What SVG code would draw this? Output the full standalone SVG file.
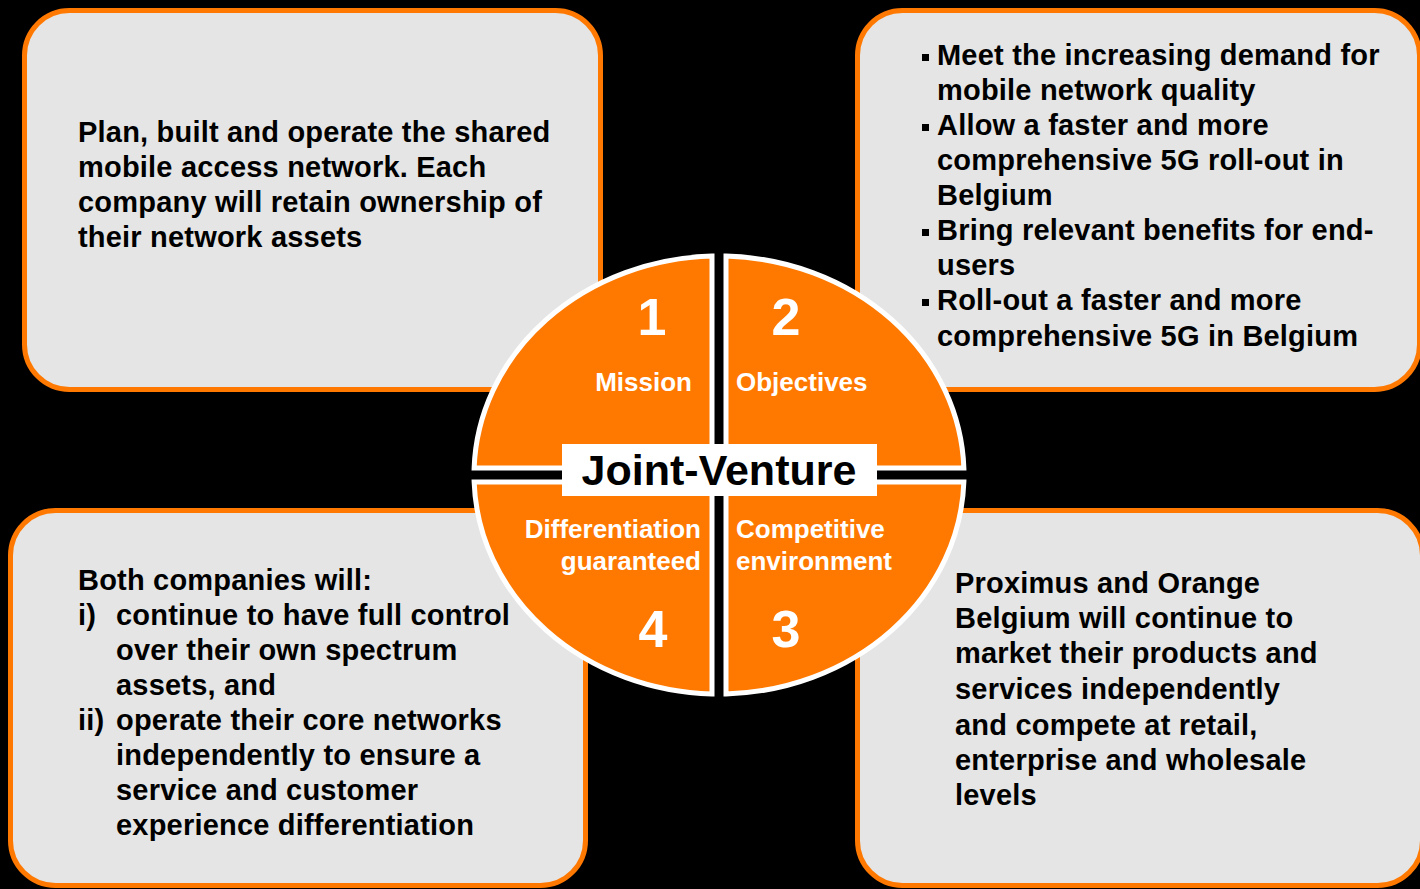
<svg xmlns="http://www.w3.org/2000/svg" width="1420" height="889" viewBox="0 0 1420 889">
  <style>
    .box { fill: #E5E5E5; stroke: #FF7900; stroke-width: 5; }
    .body { font-family: "Liberation Sans", Arial, sans-serif; font-weight: bold; font-size: 29px; fill: #000; letter-spacing: 0.2px; }
    .quad { fill: #FF7900; stroke: #FFFFFF; stroke-width: 5; stroke-linejoin: miter; }
    .num { font-family: "Liberation Sans", Arial, sans-serif; font-weight: bold; font-size: 52px; fill: #FFFFFF; text-anchor: middle; }
    .lbl { font-family: "Liberation Sans", Arial, sans-serif; font-weight: bold; font-size: 26px; fill: #FFFFFF; }
    .title { font-family: "Liberation Sans", Arial, sans-serif; font-weight: bold; font-size: 43px; fill: #000; text-anchor: middle; }
  </style>
  <rect x="0" y="0" width="1420" height="889" fill="#000000"/>

  <!-- Mission box -->
  <g id="box-mission">
    <rect class="box" x="24.5" y="10.5" width="576" height="379" rx="45" ry="45"/>
    <text class="body">
      <tspan x="78" y="142">Plan, built and operate the shared</tspan>
      <tspan x="78" y="177">mobile access network. Each</tspan>
      <tspan x="78" y="212">company will retain ownership of</tspan>
      <tspan x="78" y="247">their network assets</tspan>
    </text>
  </g>

  <!-- Objectives box -->
  <g id="box-objectives">
    <rect class="box" x="857.5" y="10.5" width="562" height="379" rx="45" ry="45"/>
    <g fill="#000">
      <rect x="922" y="54" width="7" height="7"/>
      <rect x="922" y="124" width="7" height="7"/>
      <rect x="922" y="229" width="7" height="7"/>
      <rect x="922" y="299" width="7" height="7"/>
    </g>
    <text class="body">
      <tspan x="937" y="65">Meet the increasing demand for</tspan>
      <tspan x="937" y="100">mobile network quality</tspan>
      <tspan x="937" y="135">Allow a faster and more</tspan>
      <tspan x="937" y="170">comprehensive 5G roll-out in</tspan>
      <tspan x="937" y="205">Belgium</tspan>
      <tspan x="937" y="240">Bring relevant benefits for end-</tspan>
      <tspan x="937" y="275">users</tspan>
      <tspan x="937" y="310">Roll-out a faster and more</tspan>
      <tspan x="937" y="346">comprehensive 5G in Belgium</tspan>
    </text>
  </g>

  <!-- Differentiation box -->
  <g id="box-differentiation">
    <rect class="box" x="10.5" y="510.5" width="575" height="375" rx="45" ry="45"/>
    <text class="body">
      <tspan x="78" y="590">Both companies will:</tspan>
      <tspan x="78" y="625">i)</tspan>
      <tspan x="116" y="625">continue to have full control</tspan>
      <tspan x="116" y="660">over their own spectrum</tspan>
      <tspan x="116" y="695">assets, and</tspan>
      <tspan x="78" y="730">ii)</tspan>
      <tspan x="116" y="730">operate their core networks</tspan>
      <tspan x="116" y="765">independently to ensure a</tspan>
      <tspan x="116" y="800">service and customer</tspan>
      <tspan x="116" y="835">experience differentiation</tspan>
    </text>
  </g>

  <!-- Competition box -->
  <g id="box-competition">
    <rect class="box" x="857.5" y="510.5" width="565" height="375" rx="45" ry="45"/>
    <text class="body">
      <tspan x="955" y="593">Proximus and Orange</tspan>
      <tspan x="955" y="628">Belgium will continue to</tspan>
      <tspan x="955" y="663">market their products and</tspan>
      <tspan x="955" y="699">services independently</tspan>
      <tspan x="955" y="735">and compete at retail,</tspan>
      <tspan x="955" y="770">enterprise and wholesale</tspan>
      <tspan x="955" y="805">levels</tspan>
    </text>
  </g>

  <!-- Central four-part disc -->
  <g id="hub">
    <g id="q1-mission">
      <path class="quad" d="M712,468 H474.13 A245,219 0 0 1 712,256.09 Z"/>
      <text class="num" x="652" y="335">1</text>
      <text class="lbl" x="692" y="391" text-anchor="end">Mission</text>
    </g>
    <g id="q2-objectives">
      <path class="quad" d="M726,468 V256.09 A245,219 0 0 1 963.87,468 Z"/>
      <text class="num" x="786" y="335">2</text>
      <text class="lbl" x="736" y="391">Objectives</text>
    </g>
    <g id="q3-competition">
      <path class="quad" d="M726,482 H963.87 A245,219 0 0 1 726,693.91 Z"/>
      <text class="num" x="786" y="647">3</text>
      <text class="lbl" x="736" y="538">Competitive</text>
      <text class="lbl" x="736" y="570">environment</text>
    </g>
    <g id="q4-differentiation">
      <path class="quad" d="M712,482 V693.91 A245,219 0 0 1 474.13,482 Z"/>
      <text class="num" x="653" y="647">4</text>
      <text class="lbl" x="701" y="538" text-anchor="end">Differentiation</text>
      <text class="lbl" x="701" y="570" text-anchor="end">guaranteed</text>
    </g>
    <g id="title">
      <rect x="562" y="444" width="315" height="52" fill="#FFFFFF"/>
      <text class="title" x="719" y="485">Joint-Venture</text>
    </g>
  </g>

  <g id="connectors"></g>
</svg>
